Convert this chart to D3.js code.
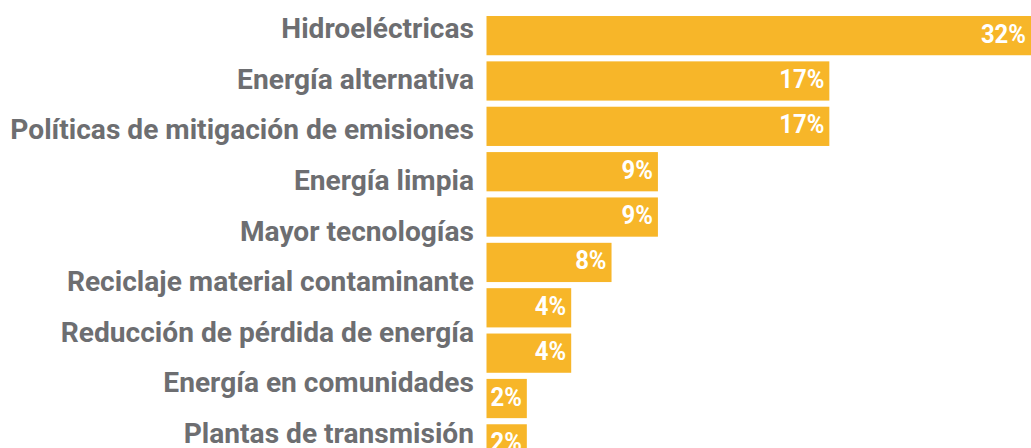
<!DOCTYPE html>
<html>
<head>
<meta charset="utf-8">
<script src="https://cdn.jsdelivr.net/npm/d3@7"></script>
<style>
  html, body { margin: 0; padding: 0; background: #fff; overflow: hidden; }
  svg { display: block; }
</style>
</head>
<body>
<div id="chart"></div>
<script>
// category labels (9 of them, listed down the left side)
const categories = [
  "Hidroeléctricas",
  "Energía alternativa",
  "Políticas de mitigación de emisiones",
  "Energía limpia",
  "Mayor tecnologías",
  "Reciclaje material contaminante",
  "Reducción de pérdida de energía",
  "Energía en comunidades",
  "Plantas de transmisión"
];
// bar lengths as drawn (the source bars are not exactly to scale)
const values = [27, 17, 17, 8.5, 8.5, 6.2, 4.2, 4.2, 2, 2];
// printed value labels
const valueLabels = ["32%", "17%", "17%", "9%", "9%", "8%", "4%", "4%", "2%", "2%"];

const width = 1031, height = 448;
const margin = { top: 16, left: 486.5, right: 0 };
const font = "Roboto, 'Liberation Sans', sans-serif";

const data = values.map((v, i) => ({ i: i, value: v, label: valueLabels[i] }));

const svg = d3.select("#chart")
  .append("svg")
  .attr("width", width)
  .attr("height", height);

const g = svg.append("g")
  .attr("transform", `translate(${margin.left},${margin.top})`);

const x = d3.scaleLinear()
  .domain([0, 27])
  .range([0, width - margin.left]);

const y = d3.scaleBand()
  .domain(d3.range(values.length))
  .range([0, 44.75 * values.length])
  .paddingInner(0.135)
  .paddingOuter(0);

g.selectAll("rect.bar")
  .data(data)
  .join("rect")
    .attr("class", "bar")
    .attr("x", 0)
    .attr("y", d => y(d.i))
    .attr("width", d => x(d.value))
    .attr("height", y.bandwidth())
    .attr("fill", "#F7B629");

// value labels, slightly condensed
const valSx = 0.92;
g.selectAll("text.val")
  .data(data)
  .join("text")
    .attr("class", "val")
    .attr("transform", d => `translate(${x(d.value) - 5},${y(d.i) + y.bandwidth() / 2 + 7}) scale(${valSx},1)`)
    .attr("text-anchor", "end")
    .attr("fill", "#fff")
    .style("font-family", font)
    .style("font-weight", "bold")
    .style("font-size", "26px")
    .text(d => d.label);

// category labels on their own spacing
const ly = d3.scalePoint()
  .domain(categories)
  .range([38, 443]);

const labels = svg.append("g")
  .selectAll("text.cat")
  .data(categories)
  .join("text")
    .attr("class", "cat")
    .attr("text-anchor", "end")
    .attr("fill", "#6D6E71")
    .style("font-family", font)
    .style("font-weight", "bold")
    .style("font-size", "28px")
    .text(d => d);

// squeeze so the longest label fits between x=10 and x=474
const longest = d3.max(labels.nodes(), n => n.getComputedTextLength());
const sx = 464 / longest;
labels.attr("transform", d => `translate(474,${ly(d)}) scale(${sx},1)`);
</script>
</body>
</html>
